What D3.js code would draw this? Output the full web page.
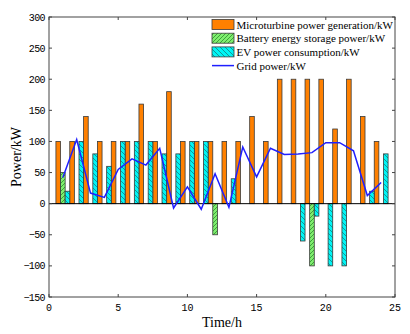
<!DOCTYPE html>
<html>
<head>
<meta charset="utf-8">
<script src="https://d3js.org/d3.v7.min.js"></script>
<style>
  body { margin: 0; background: #fff; }
  svg { display: block; }
</style>
</head>
<body>
<svg width="410" height="334"></svg>
<script>

// hours 1..24
var hours = d3.range(1, 25);
var microturbine = [100, 100, 140, 100, 100, 100, 160, 100, 180, 100, 100, 100,
                    100, 100, 140, 100, 200, 200, 200, 200, 120, 200, 140, 100];
var battery = [50, 0, 0, 0, 0, 0, 0, 0, 0, 0, 0, -50,
               0, 0, 0, 0, 0, 0, -100, 0, 0, 0, 0, 0];
var ev = [20, 100, 80, 60, 100, 100, 100, 80, 80, 100, 100, 0,
          40, 0, 0, 0, 0, -60, -20, -100, -100, 0, 20, 80];
var grid = [42, 103, 17, 10, 55, 72, 62, 89, -7, 27, -9, 48,
            -6, 91, 43, 89, 79, 80, 82, 98, 98, 85, 13, 34];

var seriesNames = ["Microturbine power generation/kW", "Battery energy storage power/kW",
                   "EV power consumption/kW", "Grid power/kW"];
var xTicks = [0, 5, 10, 15, 20, 25];
var yTicks = [-150, -100, -50, 0, 50, 100, 150, 200, 250, 300];

var svg = d3.select("svg"),
    pl = 49, pr = 395, pt = 17, pb = 297;

var x = d3.scaleLinear().domain([0, 25]).range([pl, pr]);
var y = d3.scaleLinear().domain([-150, 300]).range([pb, pt]);

var defs = svg.append("defs");
var pg = defs.append("pattern").attr("id", "hatchGreen")
    .attr("patternUnits", "userSpaceOnUse").attr("width", 4).attr("height", 4);
pg.append("rect").attr("width", 4).attr("height", 4).attr("fill", "#7fef6f");
pg.append("path").attr("d", "M-1,1 l2,-2 M0,4 l4,-4 M3,5 l2,-2")
    .attr("stroke", "#2d8a2d").attr("stroke-width", 0.8);

var pc = defs.append("pattern").attr("id", "hatchCyan")
    .attr("patternUnits", "userSpaceOnUse").attr("width", 5).attr("height", 5);
pc.append("rect").attr("width", 5).attr("height", 5).attr("fill", "#00f5f5");
pc.append("path").attr("d", "M-1,4 l2,2 M0,0 l5,5 M4,-1 l2,2")
    .attr("stroke", "#1a6f6f").attr("stroke-width", 0.7);

var bw = x(1 / 3) - x(0);

function bars(data, offset, fill) {
  svg.append("g").selectAll("rect")
    .data(data.map(function(v, i) { return {h: hours[i], v: v}; })
              .filter(function(d) { return d.v !== 0; }))
    .enter().append("rect")
      .attr("x", function(d) { return x(d.h + offset) - bw / 2; })
      .attr("width", bw)
      .attr("y", function(d) { return y(Math.max(0, d.v)); })
      .attr("height", function(d) { return Math.abs(y(d.v) - y(0)); })
      .attr("fill", fill)
      .attr("stroke", "#3a3a3a")
      .attr("stroke-width", 0.8);
}

bars(microturbine, -1 / 3, "#ff8000");
bars(battery, 0, "url(#hatchGreen)");
bars(ev, 1 / 3, "url(#hatchCyan)");

// baseline
svg.append("line")
    .attr("x1", pl).attr("x2", pr)
    .attr("y1", y(0)).attr("y2", y(0))
    .attr("stroke", "#000").attr("stroke-width", 1);

var line = d3.line()
    .x(function(d, i) { return x(hours[i]); })
    .y(function(d) { return y(d); });

svg.append("path")
    .datum(grid)
    .attr("d", line)
    .attr("fill", "none")
    .attr("stroke", "#1f1fff")
    .attr("stroke-width", 1.5);

// box and ticks
svg.append("rect")
    .attr("x", pl).attr("y", pt)
    .attr("width", pr - pl).attr("height", pb - pt)
    .attr("fill", "none").attr("stroke", "#444").attr("stroke-width", 1);

var tl = 3;
var ax = svg.append("g").attr("stroke", "#444").attr("stroke-width", 1);
xTicks.forEach(function(t) {
  ax.append("line").attr("x1", x(t)).attr("x2", x(t)).attr("y1", pb).attr("y2", pb - tl);
  ax.append("line").attr("x1", x(t)).attr("x2", x(t)).attr("y1", pt).attr("y2", pt + tl);
});
yTicks.forEach(function(t) {
  ax.append("line").attr("x1", pl).attr("x2", pl + tl).attr("y1", y(t)).attr("y2", y(t));
  ax.append("line").attr("x1", pr).attr("x2", pr - tl).attr("y1", y(t)).attr("y2", y(t));
});

var tickFont = "'Liberation Mono', 'DejaVu Sans Mono', monospace";
svg.append("g").selectAll("text")
  .data(xTicks).enter().append("text")
    .attr("x", function(d) { return x(d); })
    .attr("y", pb + 14)
    .attr("text-anchor", "middle")
    .style("font-family", tickFont).style("font-size", "10px")
    .text(function(d) { return d; });

svg.append("g").selectAll("text")
  .data(yTicks).enter().append("text")
    .attr("x", pl - 4)
    .attr("y", function(d) { return y(d) + 3.5; })
    .attr("text-anchor", "end")
    .style("font-family", tickFont).style("font-size", "10px")
    .style("letter-spacing", "-0.6px")
    .text(function(d) { return d < 0 ? "\u2212" + (-d) : d; });

var serif = "'Liberation Serif', 'Times New Roman', serif";
svg.append("text")
    .attr("x", x(12.5)).attr("y", 327)
    .attr("text-anchor", "middle")
    .style("font-family", serif).style("font-size", "14px")
    .text("Time/h");

svg.append("text")
    .attr("transform", "translate(21," + y(75) + ") rotate(-90)")
    .attr("text-anchor", "middle")
    .style("font-family", serif).style("font-size", "14px")
    .text("Power/kW");

// legend
var legend = svg.append("g").attr("transform", "translate(212,19)");
var fills = ["#ff8000", "url(#hatchGreen)", "url(#hatchCyan)"];
fills.forEach(function(f, i) {
  legend.append("rect")
      .attr("x", 0).attr("y", i * 13.7 + 0.5)
      .attr("width", 22).attr("height", 10)
      .attr("fill", f).attr("stroke", "#3a3a3a").attr("stroke-width", 0.8);
});
legend.append("line")
    .attr("x1", 0).attr("x2", 22)
    .attr("y1", 3 * 13.7 + 5.5).attr("y2", 3 * 13.7 + 5.5)
    .attr("stroke", "#1f1fff").attr("stroke-width", 1.5);
legend.selectAll("text.lg")
  .data(seriesNames).enter().append("text")
    .attr("class", "lg")
    .attr("x", 24.5)
    .attr("y", function(d, i) { return i * 13.7 + 9.5; })
    .style("font-family", serif).style("font-size", "11px")
    .text(function(d) { return d; });

</script>
</body>
</html>
